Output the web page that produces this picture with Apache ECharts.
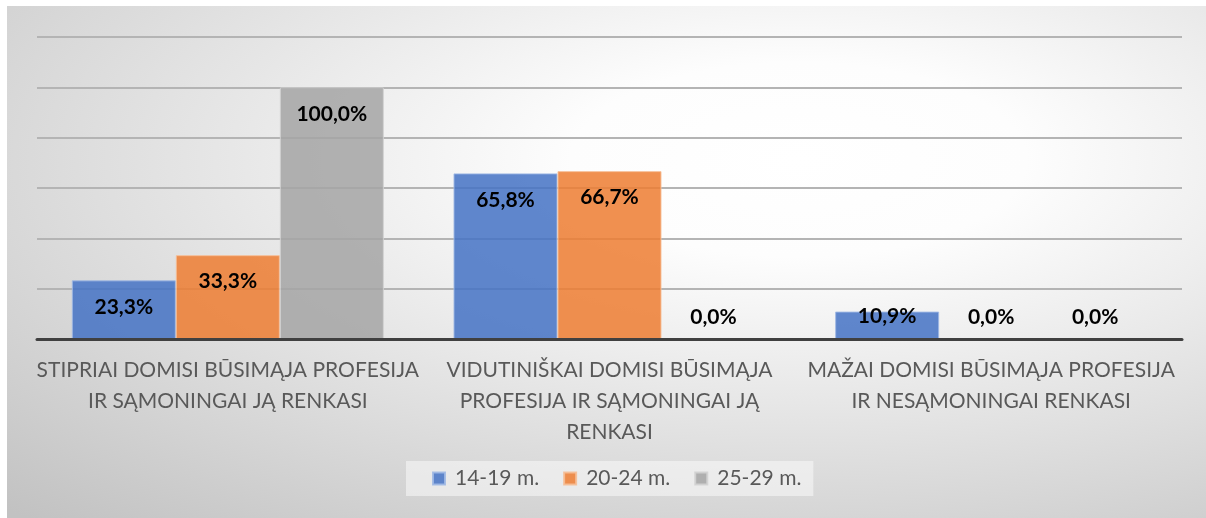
<!DOCTYPE html>
<html>
<head>
<meta charset="utf-8">
<script src="https://cdn.jsdelivr.net/npm/echarts@6/dist/echarts.min.js"></script>
<style>
  html, body { margin: 0; padding: 0; background: #fff; }
  #chart { width: 1206px; height: 518px; }
</style>
</head>
<body>
<div id="chart"></div>
<script>
const categories = [
  "STIPRIAI DOMISI BŪSIMĄJA PROFESIJA\nIR SĄMONINGAI JĄ RENKASI",
  "VIDUTINIŠKAI DOMISI BŪSIMĄJA\nPROFESIJA IR SĄMONINGAI JĄ\nRENKASI",
  "MAŽAI DOMISI BŪSIMĄJA PROFESIJA\nIR NESĄMONINGAI RENKASI"
];
const seriesNames = ["14-19 m.", "20-24 m.", "25-29 m."];
const age14to19 = [23.3, 65.8, 10.9];
const age20to24 = [33.3, 66.7, 0];
const age25to29 = [100, 0, 0];
const yTicks = [0, 20, 40, 60, 80, 100, 120];

const fills = ["rgba(68,114,196,0.85)", "rgba(237,125,49,0.85)", "rgba(165,165,165,0.85)"];
const borders = ["rgba(160,185,228,0.9)", "rgba(246,190,150,0.9)", "rgba(210,210,210,0.9)"];

const fmt = p => p.value.toFixed(1).replace(".", ",") + "%";

// short bars get their label just above the axis, like excel does
function toData(values) {
  return values.map(v => {
    if (v < 15) {
      return { value: v, label: { position: "insideBottom", distance: 12 } };
    }
    return v;
  });
}

function makeSeries(i, values) {
  return {
    name: seriesNames[i],
    type: "bar",
    barWidth: 104,
    barGap: "0%",
    itemStyle: { color: fills[i], borderColor: borders[i], borderWidth: 1 },
    label: {
      show: true,
      position: "insideTop",
      distance: 16,
      formatter: fmt,
      color: "#000",
      fontFamily: "Lato",
      fontWeight: "bold",
      fontSize: 21
    },
    data: toData(values)
  };
}

const chart = echarts.init(document.getElementById("chart"));

chart.setOption({
  animation: false,
  graphic: [
    {
      type: "rect",
      x: 7,
      y: 6,
      scaleX: 1199 / 512,
      z: -10,
      silent: true,
      shape: { x: 0, y: 0, width: 512, height: 512 },
      style: {
        fill: new echarts.graphic.RadialGradient(0.66, 0.3, 0.95, [
          { offset: 0, color: "#ffffff" },
          { offset: 0.2, color: "#fdfdfd" },
          { offset: 1, color: "#c2c2c2" }
        ])
      }
    }
  ],
  grid: { left: 37, right: 24, top: 37, bottom: 179 },
  legend: {
    data: seriesNames,
    left: 406,
    top: 461,
    padding: [7, 12, 7, 26],
    backgroundColor: "rgba(250,250,250,0.55)",
    itemWidth: 12,
    itemHeight: 12,
    itemGap: 24,
    icon: "rect",
    textStyle: {
      color: "#595959",
      fontFamily: "Lato",
      fontSize: 21,
      padding: [0, 0, 0, 5]
    }
  },
  xAxis: {
    type: "category",
    data: categories,
    z: 3,
    axisLine: { lineStyle: { color: "#404040", width: 3 } },
    axisTick: { show: false },
    axisLabel: {
      interval: 0,
      margin: 16,
      color: "#595959",
      fontFamily: "Lato",
      fontSize: 21,
      lineHeight: 31
    }
  },
  yAxis: {
    type: "value",
    min: yTicks[0],
    max: yTicks[yTicks.length - 1],
    interval: yTicks[1] - yTicks[0],
    axisLabel: { show: false },
    axisLine: { show: false },
    axisTick: { show: false },
    splitLine: { lineStyle: { color: "#b4b4b4", width: 2 } }
  },
  series: [
    makeSeries(0, age14to19),
    makeSeries(1, age20to24),
    makeSeries(2, age25to29)
  ]
});
</script>
</body>
</html>
